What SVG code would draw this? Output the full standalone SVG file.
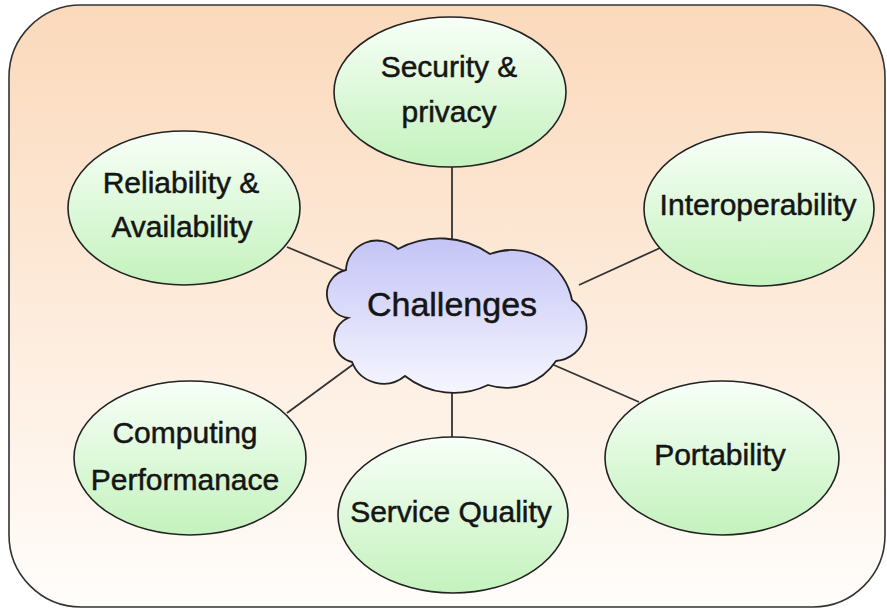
<svg xmlns="http://www.w3.org/2000/svg" width="887" height="610" viewBox="0 0 887 610">
<defs>
<linearGradient id="bg" x1="0" y1="0" x2="0" y2="1">
<stop offset="0" stop-color="#fbd9bb"/>
<stop offset="1" stop-color="#fffdfb"/>
</linearGradient>
<linearGradient id="green" x1="0" y1="0" x2="0" y2="1">
<stop offset="0" stop-color="#f8fff8"/>
<stop offset="1" stop-color="#c4f2bd"/>
</linearGradient>
<linearGradient id="cloud" x1="0" y1="0" x2="0" y2="1">
<stop offset="0" stop-color="#c4c4f6"/>
<stop offset="1" stop-color="#f6f6ff"/>
</linearGradient>
<style>
.node{fill:url(#green);stroke:#222;stroke-width:1.6}
.lbl{font-family:"Liberation Sans",Arial,sans-serif;font-size:30px;fill:#151515;stroke:#151515;stroke-width:0.5;text-anchor:middle}
.edge{stroke:#333;stroke-width:1.8;fill:none}
</style>
</defs>
<rect id="frame" x="9" y="5" width="876" height="602" rx="72" ry="72" fill="url(#bg)" stroke="#333" stroke-width="1.6"/>
<g id="connectors">
<line class="edge" x1="452" y1="167" x2="452" y2="242"/>
<line class="edge" x1="287" y1="247" x2="347" y2="272"/>
<line class="edge" x1="660" y1="248" x2="579" y2="285"/>
<line class="edge" x1="287" y1="413" x2="355" y2="363"/>
<line class="edge" x1="452" y1="386" x2="452" y2="438"/>
<line class="edge" x1="547" y1="362" x2="639" y2="402"/>
</g>
<g id="challenges">
<path d="M346 270 A30.8 30.8 0 0 1 398 249 A87.9 87.9 0 0 1 490 254 A61.2 61.2 0 0 1 572 300 A33.5 33.5 0 0 1 556 361 A60 60 0 0 1 488 385 A78.5 78.5 0 0 1 405 376 A33.8 33.8 0 0 1 352 362 A23.3 23.3 0 0 1 348 318 A24.4 24.4 0 0 1 346 270 Z" fill="url(#cloud)" stroke="#222" stroke-width="1.8"/>
<text class="lbl" x="452" y="316" style="font-size:34px">Challenges</text>
</g>
<g id="security">
<ellipse class="node" cx="450" cy="92" rx="116" ry="75"/>
<text class="lbl" x="449" y="77">Security &amp;</text>
<text class="lbl" x="449" y="122">privacy</text>
</g>
<g id="reliability">
<ellipse class="node" cx="184" cy="208" rx="116" ry="77"/>
<text class="lbl" x="181" y="193">Reliability &amp;</text>
<text class="lbl" x="182" y="237">Availability</text>
</g>
<g id="interoperability">
<ellipse class="node" cx="759" cy="209" rx="115" ry="77"/>
<text class="lbl" x="758" y="215">Interoperability</text>
</g>
<g id="computing">
<ellipse class="node" cx="190" cy="458" rx="116" ry="77"/>
<text class="lbl" x="185" y="443">Computing</text>
<text class="lbl" x="185" y="490">Performanace</text>
</g>
<g id="service">
<ellipse class="node" cx="453" cy="515" rx="115" ry="78"/>
<text class="lbl" x="451" y="522">Service Quality</text>
</g>
<g id="portability">
<ellipse class="node" cx="722" cy="458" rx="117" ry="77"/>
<text class="lbl" x="720" y="465">Portability</text>
</g>
</svg>
